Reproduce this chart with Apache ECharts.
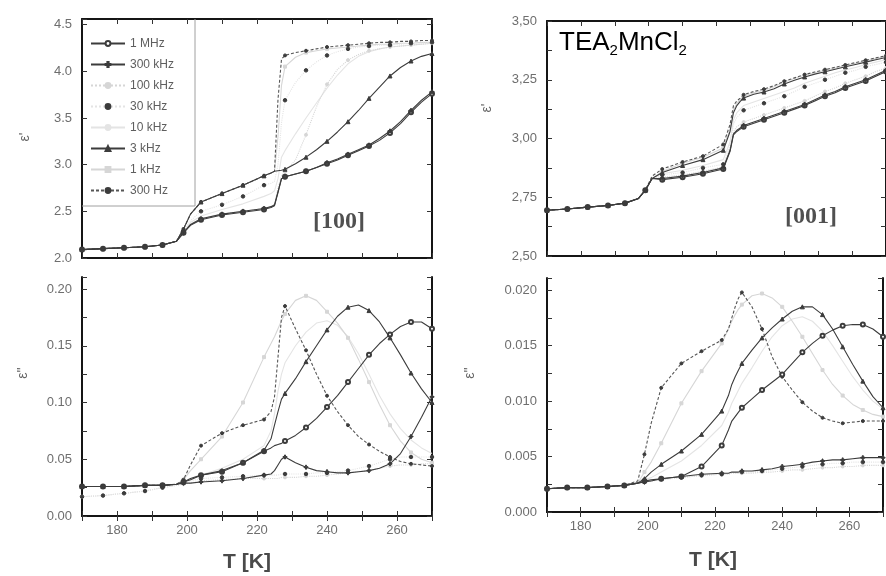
<!DOCTYPE html>
<html>
<head>
<meta charset="utf-8">
<script src="https://cdn.jsdelivr.net/npm/echarts@6/dist/echarts.min.js"></script>
<style>
  html, body { margin: 0; padding: 0; background: #fff; }
  #chart { width: 886px; height: 576px; }
</style>
</head>
<body>
<div id="chart"></div>
<script>
// Temperature grid (K) shared by all curves, and the temperatures carrying a marker
const T = [170,176,182,188,193,197,199,201,204,210,216,222,224,225,226,227,228,231,234,237,240,243,246,249,252,255,258,261,264,267,270];
const markerT = [170,176,182,188,193,199,204,210,216,222,228,234,240,246,252,258,264,270];
const freqs = ['1 MHz','300 kHz','100 kHz','30 kHz','10 kHz','3 kHz','1 kHz','300 Hz'];

// eps' along [100]
const epsR100_1MHz = [2.09,2.10,2.11,2.12,2.14,2.18,2.27,2.35,2.41,2.46,2.49,2.52,2.54,2.56,2.70,2.85,2.87,2.90,2.93,2.97,3.01,3.05,3.10,3.15,3.20,3.26,3.34,3.44,3.56,3.67,3.76];
const epsR100_300k = [2.09,2.10,2.11,2.12,2.14,2.18,2.27,2.36,2.42,2.47,2.50,2.53,2.55,2.57,2.71,2.85,2.87,2.90,2.93,2.97,3.02,3.06,3.11,3.16,3.21,3.28,3.36,3.46,3.58,3.69,3.78];
const epsR100_100k = [2.09,2.10,2.11,2.12,2.14,2.18,2.27,2.36,2.42,2.47,2.50,2.53,2.55,2.57,2.75,2.88,2.92,3.05,3.32,3.62,3.86,4.02,4.12,4.18,4.22,4.24,4.26,4.27,4.28,4.29,4.30];
const epsR100_30k  = [2.09,2.10,2.11,2.12,2.14,2.18,2.29,2.40,2.50,2.57,2.66,2.78,2.80,2.82,3.00,3.45,3.69,3.88,4.01,4.10,4.17,4.21,4.24,4.26,4.27,4.28,4.28,4.29,4.30,4.30,4.31];
const epsR100_10k  = [2.09,2.10,2.11,2.12,2.14,2.18,2.28,2.38,2.45,2.52,2.58,2.66,2.69,2.72,2.85,3.08,3.15,3.33,3.50,3.66,3.82,3.96,4.08,4.16,4.21,4.24,4.26,4.27,4.28,4.29,4.30];
const epsR100_3k   = [2.09,2.10,2.11,2.12,2.14,2.18,2.31,2.47,2.60,2.69,2.78,2.88,2.91,2.93,2.935,2.94,2.95,3.01,3.08,3.16,3.25,3.35,3.46,3.58,3.71,3.83,3.95,4.04,4.11,4.16,4.19];
const epsR100_1k   = [2.09,2.10,2.11,2.12,2.14,2.18,2.31,2.47,2.60,2.69,2.78,2.88,2.91,2.93,3.30,3.85,4.05,4.15,4.20,4.22,4.24,4.25,4.26,4.27,4.28,4.29,4.29,4.30,4.30,4.31,4.31];
const epsR100_300  = [2.09,2.10,2.11,2.12,2.14,2.18,2.31,2.47,2.60,2.69,2.78,2.88,2.91,2.93,3.70,4.13,4.17,4.20,4.22,4.24,4.26,4.27,4.28,4.29,4.30,4.31,4.31,4.32,4.32,4.33,4.33];

// eps'' along [100]
const epsI100_1MHz = [0.026,0.026,0.026,0.027,0.027,0.028,0.030,0.032,0.036,0.039,0.047,0.057,0.060,0.062,0.063,0.064,0.066,0.071,0.078,0.086,0.096,0.106,0.118,0.130,0.142,0.152,0.160,0.167,0.171,0.171,0.165];
const epsI100_300k = [0.026,0.026,0.026,0.027,0.027,0.028,0.029,0.029,0.030,0.031,0.033,0.036,0.037,0.040,0.045,0.050,0.052,0.047,0.043,0.040,0.039,0.038,0.038,0.039,0.040,0.042,0.046,0.055,0.070,0.087,0.105];
const epsI100_100k = [0.017,0.018,0.020,0.022,0.025,0.027,0.028,0.029,0.031,0.032,0.033,0.033,0.033,0.033,0.033,0.034,0.034,0.034,0.035,0.035,0.036,0.037,0.038,0.039,0.040,0.042,0.044,0.045,0.045,0.046,0.046];
const epsI100_30k  = [0.017,0.018,0.020,0.022,0.025,0.027,0.029,0.031,0.033,0.034,0.035,0.036,0.036,0.036,0.036,0.037,0.037,0.037,0.037,0.038,0.038,0.039,0.040,0.042,0.044,0.047,0.050,0.052,0.052,0.052,0.052];
const epsI100_10k  = [0.026,0.026,0.026,0.027,0.027,0.028,0.030,0.032,0.036,0.042,0.050,0.062,0.075,0.090,0.110,0.125,0.135,0.150,0.162,0.170,0.172,0.168,0.158,0.143,0.125,0.106,0.090,0.077,0.067,0.060,0.055];
const epsI100_3k   = [0.026,0.026,0.026,0.027,0.027,0.028,0.030,0.033,0.036,0.040,0.047,0.058,0.068,0.080,0.092,0.103,0.108,0.121,0.136,0.150,0.164,0.176,0.184,0.186,0.181,0.171,0.157,0.142,0.126,0.112,0.100];
const epsI100_1k   = [0.026,0.026,0.026,0.027,0.027,0.028,0.032,0.040,0.050,0.070,0.100,0.140,0.152,0.158,0.165,0.172,0.178,0.190,0.194,0.190,0.180,0.170,0.157,0.138,0.118,0.098,0.080,0.066,0.056,0.050,0.047];
const epsI100_300  = [0.026,0.026,0.026,0.027,0.027,0.028,0.032,0.045,0.062,0.073,0.080,0.085,0.092,0.105,0.140,0.175,0.185,0.165,0.146,0.125,0.106,0.092,0.080,0.070,0.063,0.057,0.052,0.048,0.046,0.045,0.044];

// eps' along [001]
const epsR001_1MHz = [2.695,2.700,2.708,2.715,2.725,2.745,2.78,2.83,2.825,2.835,2.850,2.870,2.945,3.015,3.030,3.040,3.050,3.065,3.080,3.095,3.110,3.125,3.140,3.160,3.180,3.195,3.215,3.230,3.245,3.265,3.285];
const epsR001_300k = [2.695,2.700,2.708,2.715,2.725,2.745,2.78,2.83,2.830,2.840,2.855,2.875,2.950,3.020,3.035,3.045,3.055,3.070,3.085,3.100,3.115,3.130,3.145,3.165,3.185,3.200,3.220,3.235,3.250,3.270,3.290];
const epsR001_100k = [2.695,2.700,2.708,2.715,2.725,2.745,2.78,2.83,2.835,2.845,2.860,2.880,2.955,3.030,3.050,3.060,3.070,3.085,3.100,3.115,3.130,3.145,3.160,3.180,3.200,3.215,3.235,3.250,3.265,3.285,3.300];
const epsR001_30k  = [2.695,2.700,2.708,2.715,2.725,2.745,2.78,2.83,2.845,2.855,2.875,2.890,2.970,3.060,3.090,3.105,3.120,3.135,3.150,3.165,3.180,3.200,3.220,3.235,3.250,3.265,3.280,3.290,3.305,3.315,3.325];
const epsR001_10k  = [2.695,2.700,2.708,2.715,2.725,2.745,2.78,2.83,2.850,2.865,2.885,2.910,2.985,3.080,3.110,3.125,3.140,3.155,3.170,3.185,3.200,3.215,3.235,3.250,3.265,3.280,3.292,3.302,3.315,3.325,3.335];
const epsR001_3k   = [2.695,2.700,2.708,2.715,2.725,2.745,2.78,2.83,2.855,2.885,2.910,2.950,3.030,3.110,3.140,3.158,3.172,3.188,3.198,3.212,3.232,3.248,3.262,3.274,3.284,3.295,3.305,3.315,3.325,3.335,3.345];
const epsR001_1k   = [2.695,2.700,2.708,2.715,2.725,2.745,2.78,2.83,2.860,2.895,2.920,2.960,3.040,3.120,3.150,3.165,3.180,3.195,3.205,3.220,3.240,3.255,3.270,3.280,3.290,3.300,3.310,3.320,3.330,3.340,3.350];
const epsR001_300  = [2.695,2.700,2.708,2.715,2.725,2.745,2.78,2.84,2.870,2.900,2.925,2.975,3.060,3.140,3.160,3.172,3.186,3.200,3.210,3.225,3.244,3.258,3.272,3.283,3.293,3.303,3.313,3.323,3.333,3.343,3.352];

// eps'' along [001]
const epsI001_1MHz = [0.0021,0.0022,0.0022,0.0023,0.0024,0.0026,0.0028,0.0029,0.0030,0.0032,0.0041,0.0060,0.0074,0.0082,0.0086,0.0090,0.0094,0.0102,0.0110,0.0117,0.0124,0.0134,0.0144,0.0152,0.0159,0.0164,0.0168,0.0169,0.0169,0.0165,0.0158];
const epsI001_300k = [0.0021,0.0022,0.0022,0.0023,0.0024,0.0026,0.0027,0.0028,0.0030,0.0032,0.0034,0.0035,0.0035,0.0036,0.0036,0.0036,0.0037,0.0037,0.0038,0.0039,0.0041,0.0042,0.0043,0.0045,0.0046,0.0047,0.0047,0.0048,0.0049,0.0049,0.0049];
const epsI001_100k = [0.0021,0.0022,0.0022,0.0023,0.0024,0.0026,0.0027,0.0028,0.0029,0.0031,0.0033,0.0034,0.0034,0.0035,0.0035,0.0035,0.0035,0.0035,0.0036,0.0036,0.0037,0.0038,0.0038,0.0039,0.0040,0.0040,0.0041,0.0041,0.0042,0.0042,0.0042];
const epsI001_30k  = [0.0021,0.0022,0.0022,0.0023,0.0024,0.0026,0.0027,0.0028,0.0030,0.0031,0.0033,0.0034,0.0035,0.0035,0.0035,0.0035,0.0036,0.0036,0.0037,0.0038,0.0039,0.0040,0.0041,0.0042,0.0043,0.0044,0.0044,0.0045,0.0045,0.0045,0.0045];
const epsI001_10k  = [0.0021,0.0022,0.0022,0.0023,0.0024,0.0026,0.0029,0.0031,0.0036,0.0046,0.0060,0.0078,0.0090,0.0098,0.0104,0.0110,0.0116,0.0130,0.0145,0.0158,0.0168,0.0174,0.0176,0.0172,0.0163,0.0150,0.0136,0.0122,0.0110,0.0100,0.0093];
const epsI001_3k   = [0.0021,0.0022,0.0022,0.0023,0.0024,0.0026,0.0030,0.0036,0.0043,0.0055,0.0070,0.0091,0.0105,0.0115,0.0122,0.0128,0.0134,0.0146,0.0157,0.0166,0.0174,0.0181,0.0185,0.0185,0.0178,0.0165,0.0149,0.0133,0.0118,0.0104,0.0094];
const epsI001_1k   = [0.0021,0.0022,0.0022,0.0023,0.0024,0.0026,0.0036,0.0045,0.0062,0.0098,0.0127,0.0152,0.0165,0.0172,0.0178,0.0183,0.0187,0.0195,0.0197,0.0193,0.0185,0.0172,0.0158,0.0143,0.0128,0.0115,0.0105,0.0097,0.0092,0.0088,0.0086];
const epsI001_300  = [0.0021,0.0022,0.0022,0.0023,0.0024,0.0028,0.0052,0.0080,0.0112,0.0134,0.0145,0.0155,0.0165,0.0175,0.0185,0.0193,0.0198,0.0185,0.0165,0.0140,0.0122,0.0110,0.0099,0.0091,0.0085,0.0082,0.0080,0.0081,0.0082,0.0082,0.0082];

// Labelled temperature step on the x axes
const xLabelStep = 20;

// Line and marker appearance per frequency
const DARK = '#3c3c3c', LIGHT = '#d6d6d6', PALE = '#e4e4e4';
const plus = 'path://M-1,-4H1V-1H4V1H1V4H-1V1H-4V-1H-1Z';
const look = {
  '1 MHz':   { color: DARK,  line: DARK,  type: 'solid',  symbol: 'emptyCircle', size: 4, z: 5 },
  '300 kHz': { color: DARK,  line: DARK,  type: 'solid',  symbol: plus,          size: 4, z: 5 },
  '100 kHz': { color: LIGHT, line: LIGHT, type: 'dotted', symbol: 'circle',      size: 3, z: 2 },
  '30 kHz':  { color: DARK,  line: PALE,  type: 'dotted', symbol: 'circle',      size: 3.5, z: 3 },
  '10 kHz':  { color: PALE,  line: PALE,  type: 'solid',  symbol: 'none',        size: 0, z: 1 },
  '3 kHz':   { color: DARK,  line: DARK,  type: 'solid',  symbol: 'triangle',    size: 4, z: 5 },
  '1 kHz':   { color: LIGHT, line: LIGHT, type: 'solid',  symbol: 'rect',        size: 3, z: 2 },
  '300 Hz':  { color: DARK,  line: '#555', type: [3, 2],  symbol: 'circle',      size: 3, z: 4 }
};

const panels = [
  { sets: [epsR100_1MHz, epsR100_300k, epsR100_100k, epsR100_30k, epsR100_10k, epsR100_3k, epsR100_1k, epsR100_300] },
  { sets: [epsI100_1MHz, epsI100_300k, epsI100_100k, epsI100_30k, epsI100_10k, epsI100_3k, epsI100_1k, epsI100_300] },
  { sets: [epsR001_1MHz, epsR001_300k, epsR001_100k, epsR001_30k, epsR001_10k, epsR001_3k, epsR001_1k, epsR001_300] },
  { sets: [epsI001_1MHz, epsI001_300k, epsI001_100k, epsI001_30k, epsI001_10k, epsI001_3k, epsI001_1k, epsI001_300] }
];

const grids = [
  { left: 82,  top: 19,  width: 350, height: 239 },
  { left: 82,  top: 277, width: 350, height: 239 },
  { left: 547, top: 21,  width: 346, height: 235 },
  { left: 547, top: 278, width: 346, height: 234 }
];

const near = (v, step) => Math.abs(v / step - Math.round(v / step)) < 1e-6;
const yScales = [
  { min: 2.0, max: 4.56,   interval: 0.5,    fmt: v => near(v, 0.5) ? v.toFixed(1) : '' },
  { min: 0,   max: 0.2106, interval: 0.025,  fmt: v => near(v, 0.05) ? v.toFixed(2) : '' },
  { min: 2.5, max: 3.5,    interval: 0.125,  fmt: v => near(v, 0.25) ? v.toFixed(2).replace('.', ',') : '' },
  { min: 0,   max: 0.0211, interval: 0.0025, fmt: v => near(v, 0.005) ? v.toFixed(3) : '' }
];

const FONT = '"Liberation Sans", Arial, sans-serif';
const frame = { show: true, lineStyle: { color: '#151515', width: 2 } };
const ticks = { show: true, inside: true, length: 5, lineStyle: { color: '#333', width: 1 } };
const labelStyle = { color: '#6e6e6e', fontSize: 13, fontFamily: FONT };

const xAxis = [], yAxis = [], series = [];
grids.forEach((g, gi) => {
  const showX = gi === 1 || gi === 3;
  xAxis.push({
    type: 'value', gridIndex: gi, position: 'bottom', min: 170, max: 270, interval: 10,
    axisLine: frame, axisTick: ticks, splitLine: { show: false },
    axisLabel: Object.assign({ show: showX, margin: 8,
      formatter: v => (near(v, xLabelStep) ? String(v) : '') }, labelStyle)
  });
  xAxis.push({
    type: 'value', gridIndex: gi, position: 'top', min: 170, max: 270, interval: 10,
    axisLine: frame, axisTick: ticks, splitLine: { show: false }, axisLabel: { show: false }
  });
  const ys = yScales[gi];
  yAxis.push({
    type: 'value', gridIndex: gi, position: 'left', min: ys.min, max: ys.max, interval: ys.interval,
    axisLine: frame, axisTick: ticks, splitLine: { show: false },
    axisLabel: Object.assign({ margin: 10, formatter: ys.fmt, showMaxLabel: true, showMinLabel: true }, labelStyle)
  });
  yAxis.push({
    type: 'value', gridIndex: gi, position: 'right', min: ys.min, max: ys.max, interval: ys.interval,
    axisLine: frame, axisTick: ticks, splitLine: { show: false }, axisLabel: { show: false }
  });

  panels[gi].sets.forEach((vals, k) => {
    const name = freqs[k];
    const st = look[name];
    series.push({
      name, type: 'line', xAxisIndex: gi * 2, yAxisIndex: gi * 2,
      z: st.z, silent: true, animation: false,
      symbol: st.symbol, symbolSize: st.size, showSymbol: true,
      itemStyle: { color: st.color, borderColor: st.color, borderWidth: 1 },
      lineStyle: { color: st.line, width: 1.1, type: st.type },
      data: T.map((t, i) => ({
        value: [t, vals[i]],
        symbol: markerT.includes(t) ? st.symbol : 'none'
      }))
    });
  });
});

const graphic = [
  // legend frame
  { type: 'polyline', shape: { points: [[82, 206], [195, 206], [195, 19]] },
    style: { stroke: '#a0a0a0', lineWidth: 1, fill: null }, z: 10 },
  // axis titles
  { type: 'text', x: 247, y: 562, style: { text: 'T [K]', font: 'bold 21px ' + FONT, fill: '#4a4a4a', align: 'center', verticalAlign: 'middle' } },
  { type: 'text', x: 713, y: 560, style: { text: 'T [K]', font: 'bold 21px ' + FONT, fill: '#4a4a4a', align: 'center', verticalAlign: 'middle' } },
  { type: 'text', x: 25,  y: 137, rotation: Math.PI / 2, style: { text: "ε'",  font: '14px ' + FONT, fill: '#666', align: 'center', verticalAlign: 'middle' } },
  { type: 'text', x: 23,  y: 373, rotation: Math.PI / 2, style: { text: "ε''", font: '14px ' + FONT, fill: '#666', align: 'center', verticalAlign: 'middle' } },
  { type: 'text', x: 487, y: 108, rotation: Math.PI / 2, style: { text: "ε'",  font: '14px ' + FONT, fill: '#666', align: 'center', verticalAlign: 'middle' } },
  { type: 'text', x: 470, y: 373, rotation: Math.PI / 2, style: { text: "ε''", font: '14px ' + FONT, fill: '#666', align: 'center', verticalAlign: 'middle' } },
  // crystal directions
  { type: 'text', x: 339, y: 222, style: { text: '[100]', font: 'bold 24px "Liberation Serif", serif', fill: '#505050', align: 'center', verticalAlign: 'middle' } },
  { type: 'text', x: 811, y: 217, style: { text: '[001]', font: 'bold 24px "Liberation Serif", serif', fill: '#505050', align: 'center', verticalAlign: 'middle' } },
  // compound
  { type: 'text', x: 559, y: 43, style: {
      text: '{a|TEA}{s|2}{a|MnCl}{s|2}', verticalAlign: 'middle',
      rich: {
        a: { fontSize: 26, fontFamily: FONT, color: '#454545' },
        s: { fontSize: 15, fontFamily: FONT, color: '#454545', padding: [16, 0, 0, 0] }
      } } }
];

const chart = echarts.init(document.getElementById('chart'), null, { renderer: 'canvas' });
chart.setOption({
  backgroundColor: '#ffffff',
  animation: false,
  grid: grids,
  xAxis, yAxis, series,
  legend: {
    data: freqs, orient: 'vertical', left: 90, top: 37, padding: 0,
    itemWidth: 34, itemHeight: 6, itemGap: 8,
    textStyle: { color: '#5e5e5e', fontSize: 12, fontFamily: FONT, lineHeight: 13 },
    selectedMode: false
  },
  graphic
});
</script>
</body>
</html>
